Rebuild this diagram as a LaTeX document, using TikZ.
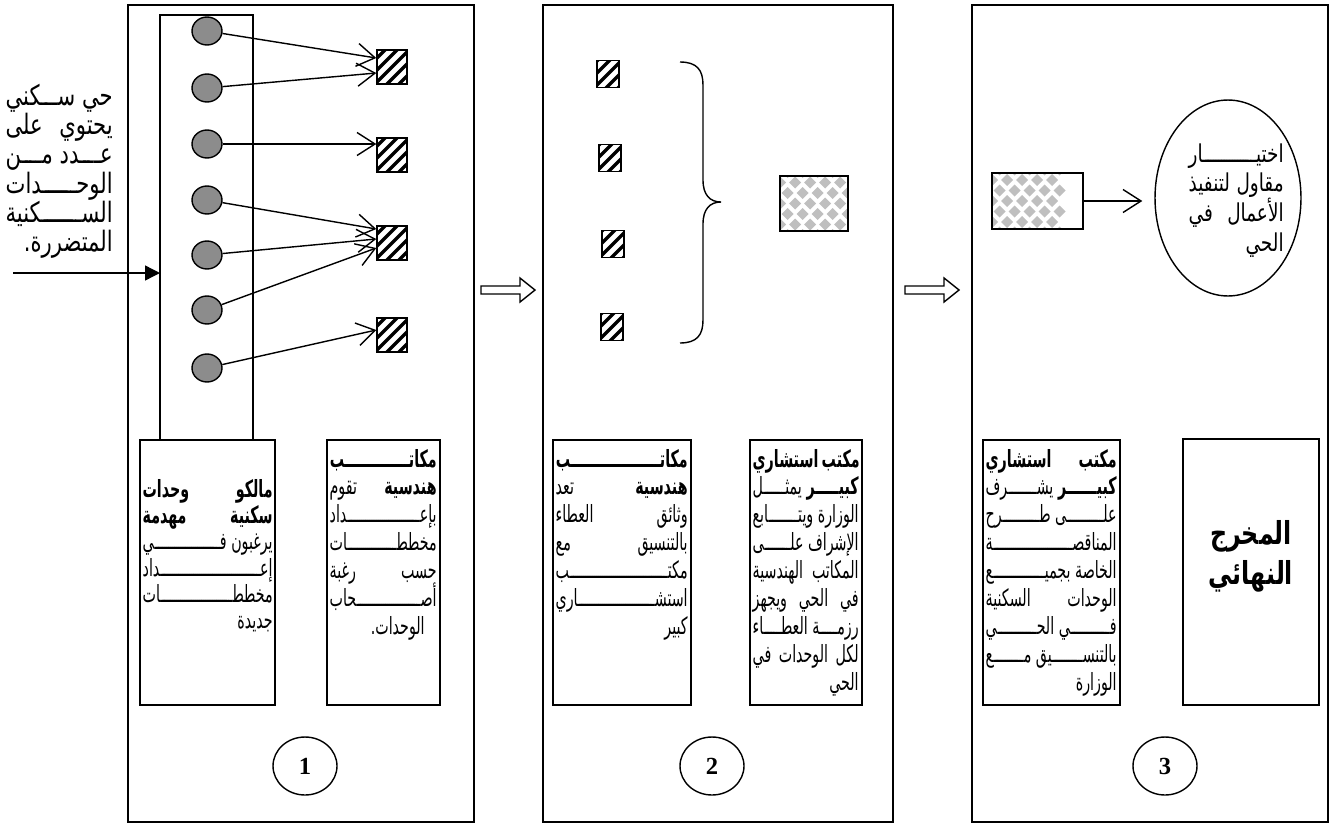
\documentclass[tikz,border=0pt]{standalone}
\usepackage{fontspec}
\usetikzlibrary{arrows.meta,calc,fit,shapes.geometric}
\setmainfont{Liberation Serif}
\newfontfamily\arabicfont[Script=Arabic, FakeStretch=0.6]{DejaVu Sans}
\newfontfamily\arabicwide[Script=Arabic, FakeStretch=0.75]{DejaVu Sans}
\TeXXeTstate=1
\newdimen\lw
\newcommand\JL[1]{\hbox to\lw{\beginR #1\endR}}
\newcommand\RL[1]{\hbox to\lw{\hfill\beginR #1\endR}}
\newcommand\kf{\kern-.4pt\xleaders\hbox{\setbox0\hbox{ـ}\hbox to.5\wd0{\copy0\hss}}\hfill\kern-.4pt}
\newcommand\TB[3]{\vtop{\lw=#1\relax\baselineskip=#2\relax\lineskiplimit=-\maxdimen\lineskip=0pt\relax #3}}
\tikzset{
  box/.style={draw, line width=.8pt, inner sep=0pt, outer sep=0pt},
  atext/.style={inner sep=0pt, anchor=base east, font=\arabicfont\fontsize{13.5}{14}\selectfont},
  arr/.style={line width=.8pt, -{Straight Barb[length=3.6mm,width=4.6mm,line width=.8pt]}},
  dotc/.style={ellipse, draw, line width=.8pt, minimum width=0.6cm, minimum height=0.56cm, inner sep=0pt, fill=black!45},
  hatch/.style={draw, line width=.8pt, inner sep=0pt, path picture={
    \foreach \k in {-4,...,4}{\draw[line width=2pt, shift={(path picture bounding box.center)}] (\k*12-25,25) -- (\k*12+25,-25);}}},
  mott/.style={box, path picture={
    \foreach \i in {-4,...,4}{\foreach \j in {-2,...,2}{
      \fill[black!25, shift={(path picture bounding box.center)}] (\i*15,\j*21) +(-6,0) -- +(0,-6) -- +(6,0) -- +(0,6) -- cycle;
      \fill[black!25, shift={(path picture bounding box.center)}] (\i*15+7.5,\j*21+10.5) +(-6,0) -- +(0,-6) -- +(6,0) -- +(0,6) -- cycle;}}}},
  numc/.style={ellipse, draw, line width=.8pt, minimum width=1.28cm, minimum height=1.16cm, inner sep=0pt, font=\bfseries\fontsize{14}{14}\selectfont},
  blockarr/.style={draw, line width=.8pt, fill=white}
}
\begin{document}
\begin{tikzpicture}[x=0.02cm, y=-0.02cm]
\useasboundingbox (0,0) rectangle (1333,825);
% panels
\node[box, fit={(128,5) (474,822)}] (p1) {};
\node[box, fit={(543,5) (893,822)}] (p2) {};
\node[box, fit={(972,5) (1328,822)}] (p3) {};
% panel 1
\node[box, fit={(160,15) (253,440)}] (inner) {};
\node[box, fit={(140,440) (275,705)}] (b1l) {};
\node[box, fit={(327,440) (440,705)}] (b1r) {};
\foreach \n/\y in {1/31,2/88,3/144,4/200,5/255,6/310,7/368}{\node[dotc] (c\n) at (207,\y) {};}
\node[hatch, minimum width=0.6cm, minimum height=0.68cm] (s1) at (392,67) {};
\node[hatch, minimum width=0.6cm, minimum height=0.68cm] (s2) at (392,155) {};
\node[hatch, minimum width=0.6cm, minimum height=0.68cm] (s3) at (392,243) {};
\node[hatch, minimum width=0.6cm, minimum height=0.68cm] (s4) at (392,335) {};
\draw[arr] (c1) -- ($(s1.west)+(0,-9)$);
\draw[arr] (c2) -- ($(s1.west)+(0,6)$);
\draw[arr] (c3) -- ($(s2.west)+(0,-11)$);
\draw[arr] (c4) -- ($(s3.west)+(0,-14)$);
\draw[arr] (c5) -- ($(s3.west)+(0,-4)$);
\draw[arr] (c6) -- ($(s3.west)+(0,5)$);
\draw[arr] (c7) -- ($(s4.west)+(0,-5)$);
\coordinate (in) at (13,273);
\draw[line width=.8pt, -{Triangle[length=3mm,width=3mm]}] (in) -- (inner.west |- in);
\node[atext, font=\arabicwide\fontsize{16}{16}\selectfont] (lt) at (113,105) {\TB{2.14cm}{16.7pt}{
\JL{حي سـ\kf ـكني}
\JL{يحتوي على}
\JL{عـ\kf ـدد مـ\kf ـن}
\JL{الوحـ\kf ـدات}
\JL{السـ\kf ـكنية}
\RL{المتضررة\kern0pt.}}};
\node[atext] (t1l) at (273,497) {\TB{2.6cm}{15pt}{
\JL{\textbf{مالكو وحدات}}
\JL{\textbf{سكنية مهدمة}}
\JL{يرغبون فـ\kf ـي}
\JL{إعـ\kf ـداد}
\JL{مخططـ\kf ـات}
\RL{جديدة}}};
\node[atext] (t1r) at (437,467) {\TB{2.14cm}{15.9pt}{
\JL{\textbf{مكاتـ\kf ـب}}
\JL{\textbf{هندسية} تقوم}
\JL{بإعـ\kf ـداد}
\JL{مخططـ\kf ـات}
\JL{حسب رغبة}
\JL{أصـ\kf ـحاب}
\hbox to\lw{\hfill\beginR الوحدات\kern0pt.\endR\hskip 0.24cm}}};
\node[numc] (n1) at (305,766) {1};
% arrows between panels
\draw[blockarr] (481,286) -- (520,286) -- (520,278) -- (535,290) -- (520,302) -- (520,294) -- (481,294) -- cycle;
\draw[blockarr] (905,286) -- (944,286) -- (944,278) -- (959,290) -- (944,302) -- (944,294) -- (905,294) -- cycle;
% panel 2
\node[hatch, minimum width=0.44cm, minimum height=0.54cm] (q1) at (608,74) {};
\node[hatch, minimum width=0.44cm, minimum height=0.54cm] (q2) at (610,158) {};
\node[hatch, minimum width=0.44cm, minimum height=0.54cm] (q3) at (613,244) {};
\node[hatch, minimum width=0.44cm, minimum height=0.54cm] (q4) at (612,327) {};
\draw[line width=.8pt] (680,62) .. controls (697,62) and (703,70) .. (703,85) -- (703,180) .. controls (703,195) and (710,202) .. (721,202) .. controls (710,202) and (703,209) .. (703,224) -- (703,320) .. controls (703,335) and (697,343) .. (680,343);
\node[mott, fit={(780,176) (848,231)}] (r2) {};
\node[box, fit={(553,440) (691,705)}] (b2l) {};
\node[box, fit={(750,440) (862,705)}] (b2r) {};
\node[atext] (t2l) at (688,467) {\TB{2.64cm}{15.9pt}{
\JL{\textbf{مكاتـ\kf ـب}}
\JL{\textbf{هندسية} تعد}
\JL{وثائق العطاء}
\JL{بالتنسيق مع}
\JL{مكتـ\kf ـب}
\JL{استشـ\kf ـاري}
\RL{كبير}}};
\node[atext] (t2r) at (859,467) {\TB{2.12cm}{15.9pt}{
\JL{\textbf{مكتب استشاري}}
\JL{\textbf{كبيـ\kf ـر} يمثـ\kf ـل}
\JL{الوزارة ويتـ\kf ـابع}
\JL{الإشراف علـ\kf ـى}
\JL{المكاتب الهندسية}
\JL{في الحي ويجهز}
\JL{رزمـ\kf ـة العطـ\kf ـاء}
\JL{لكل الوحدات في}
\RL{الحي}}};
\node[numc] (n2) at (712,766) {2};
% panel 3
\node[mott, fit={(992,173) (1083,229)}] (r3) {};
\node[ellipse, draw, line width=.8pt, minimum width=2.92cm, minimum height=3.92cm, inner sep=0pt] (ell) at (1228,198) {};
\draw[arr] (r3) -- ($(r3.east -| ell.west)+(-12,0)$);
\node[atext, font=\arabicwide\fontsize{14}{14}\selectfont] (te) at (1284,162) {\TB{1.9cm}{17pt}{
\JL{اختيـ\kf ـار}
\JL{مقاول لتنفيذ}
\JL{الأعمال في}
\RL{الحي}}};
\node[box, fit={(983,440) (1120,705)}] (b3l) {};
\node[box, fit={(1183,439) (1319,705)}] (b3r) {};
\node[atext] (t3l) at (1117,467) {\TB{2.62cm}{15.9pt}{
\JL{\textbf{مكتب استشاري}}
\JL{\textbf{كبيـ\kf ـر} يشـ\kf ـرف}
\JL{علـ\kf ـى طـ\kf ـرح}
\JL{المناقصـ\kf ـة}
\JL{الخاصة بجميـ\kf ـع}
\JL{الوحدات السكنية}
\JL{فـ\kf ـي الحـ\kf ـي}
\JL{بالتنسـ\kf ـيق مـ\kf ـع}
\RL{الوزارة}}};
\node[inner sep=0pt, align=center, font=\arabicwide\bfseries\fontsize{18}{22.7}\selectfont] (out) at (1251,556) {\beginR المخرج\endR\\\beginR النهائي\endR};
\node[numc] (n3) at (1165,766) {3};
\end{tikzpicture}
\end{document}
